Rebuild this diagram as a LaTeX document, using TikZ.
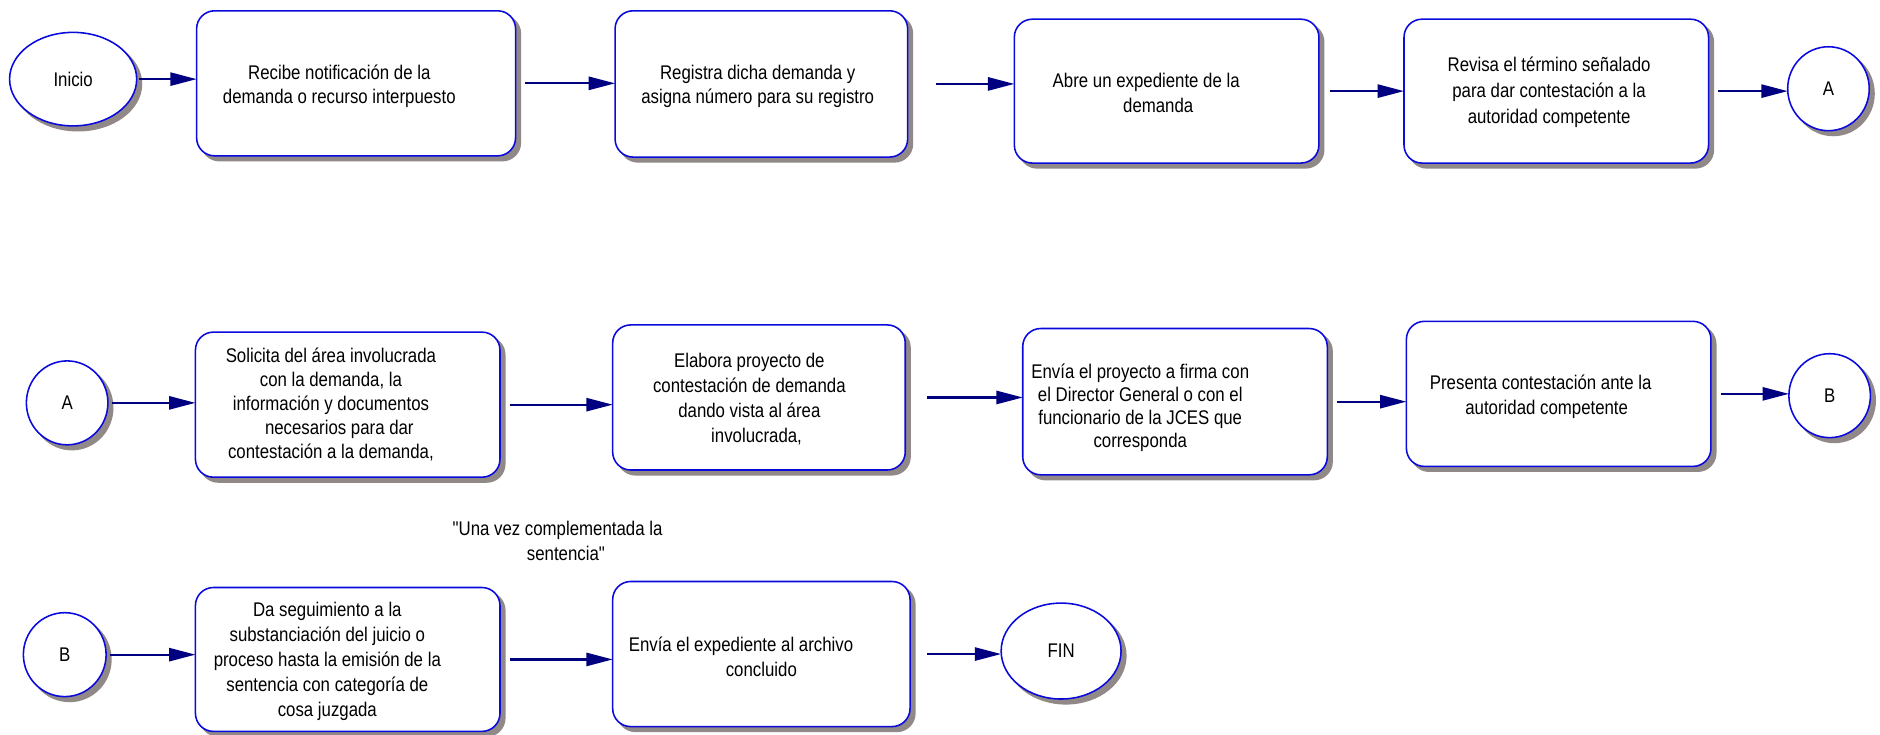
\documentclass[tikz,border=0pt]{standalone}
\usepackage{fontspec}
\setmainfont{Liberation Sans}[FakeStretch=0.85]
\newfontfamily\qfont{Liberation Sans}[FakeStretch=0.85]
\usetikzlibrary{arrows.meta,shapes.geometric}
\definecolor{boxblue}{RGB}{10,10,220}
\definecolor{arrownavy}{RGB}{0,0,128}
\definecolor{shadowgray}{RGB}{145,136,136}
\tikzset{
  shad/.style={preaction={draw=shadowgray,fill=shadowgray,line width=1.3pt,
    transform canvas={xshift=4pt,yshift=-4pt}}},
  procbox/.style={shape=rectangle,rounded corners=15pt,draw=boxblue,line width=1.3pt,fill=white,
    inner sep=0pt,outer sep=0pt,shad},
  connector/.style={shape=ellipse,draw=boxblue,line width=1.3pt,fill=white,inner sep=0pt,outer sep=0pt,
    shad,font=\fontsize{16.5}{20}\selectfont},
  txt/.style={align=center,inner sep=0pt,font=\fontsize{16.5}{20.7}\selectfont},
  flow/.style={draw=arrownavy,line width=1.8pt,-{Triangle[length=22pt,width=11pt]}},
}
\begin{document}
\begin{tikzpicture}[x=1pt,y=-1pt]
\useasboundingbox (0,0) rectangle (1568,613);
% row 1
\node[connector,minimum width=106pt,minimum height=78pt] (ini) at (61,66) {Inicio};
\node[procbox,minimum width=266pt,minimum height=121pt] (b1) at (297,69.5) {};
\node[procbox,minimum width=244pt,minimum height=122pt] (b2) at (635,70) {};
\node[procbox,minimum width=254pt,minimum height=120pt] (b3) at (973,76) {};
\node[procbox,minimum width=254pt,minimum height=120pt] (b4) at (1298,76) {};
\node[connector,minimum width=68pt,minimum height=70pt] (ca1) at (1525,74) {A};
% row 2
\node[connector,minimum width=68pt,minimum height=70pt] (ca2) at (56,336) {A};
\node[procbox,minimum width=254pt,minimum height=121pt] (b5) at (290,337.5) {};
\node[procbox,minimum width=244pt,minimum height=121pt] (b6) at (633,331.5) {};
\node[procbox,minimum width=254pt,minimum height=122pt] (b7) at (980,335) {};
\node[procbox,minimum width=254pt,minimum height=121pt] (b8) at (1300,328.5) {};
\node[connector,minimum width=68pt,minimum height=70pt] (cb1) at (1526,330) {B};
% row 3
\node[connector,minimum width=69pt,minimum height=70pt] (cb2) at (54,546) {B};
\node[procbox,minimum width=254pt,minimum height=120pt] (b9) at (290,550) {};
\node[procbox,minimum width=248pt,minimum height=121pt] (b10) at (635,545.5) {};
\node[connector,minimum width=100pt,minimum height=80pt] (fin) at (885,543) {FIN};
% texts
\node[txt] (t1) at (283,72) {Recibe notificación de la\\demanda o recurso interpuesto};
\node[txt] (t2) at (632,72) {Registra dicha demanda y\\asigna número para su registro};
\node[txt] (t3) at (956,77.5) {Abre un expediente de la\\\hspace*{20pt}demanda};
\node[txt,font=\fontsize{16.5}{22}\selectfont] (t4) at (1292,77) {Revisa el término señalado\\para dar contestación a la\\autoridad competente};
\node[txt,font=\fontsize{16.5}{20}\selectfont] (t5) at (276,337) {Solicita del área involucrada\\con la demanda, la\\información y documentos\\\hspace*{14pt}necesarios para dar\\contestación a la demanda,};
\node[txt] (t6) at (625,333) {Elabora proyecto de\\contestación de demanda\\dando vista al área\\\hspace*{12pt}involucrada,};
\node[txt,font=\fontsize{16.5}{19}\selectfont] (t7) at (951,340) {Envía el proyecto a firma con\\el Director General o con el\\funcionario de la JCES que\\corresponda};
\node[txt] (t8) at (1285,331) {Presenta contestación ante la\\\hspace*{10pt}autoridad competente};
\node[txt] (t9) at (273,551.5) {Da seguimiento a la\\substanciación del juicio o\\proceso hasta la emisión de la\\sentencia con categoría de\\cosa juzgada};
\node[txt] (t10) at (618,547.5) {Envía el expediente al archivo\\\hspace*{34pt}concluido};
\node[txt] (note) at (465,451) {{\qfont"}Una vez complementada la\\\hspace*{14pt}sentencia{\qfont"}};
% connectors
\draw[flow,shorten <=2pt] (ini.east) -- (ini.east -| b1.west);
\draw[flow,shorten <=8pt] (b1.east) -- (b1.east -| b2.west);
\draw[flow,shorten <=24pt] (b2.east) -- (b2.east -| b3.west);
\draw[flow,shorten <=9pt] (b3.east) -- (b3.east -| b4.west);
\draw[flow,shorten <=8pt] (b4.east) -- (b4.east -| ca1.west);
\draw[flow,shorten <=3pt] (ca2.east) -- (ca2.east -| b5.west);
\draw[flow,shorten <=8pt] (b5.east) -- (b5.east -| b6.west);
\draw[flow,shorten <=18pt] (b6.east) -- (b6.east -| b7.west);
\draw[flow,shorten <=8pt] (b7.east) -- (b7.east -| b8.west);
\draw[flow,shorten <=8pt] (b8.east) -- (b8.east -| cb1.west);
\draw[flow,shorten <=3pt] (cb2.east) -- (cb2.east -| b9.west);
\draw[flow,shorten <=8pt] (b9.east) -- (b9.east -| b10.west);
\draw[flow,shorten <=14pt] (b10.east) -- (b10.east -| fin.west);
\end{tikzpicture}
\end{document}
